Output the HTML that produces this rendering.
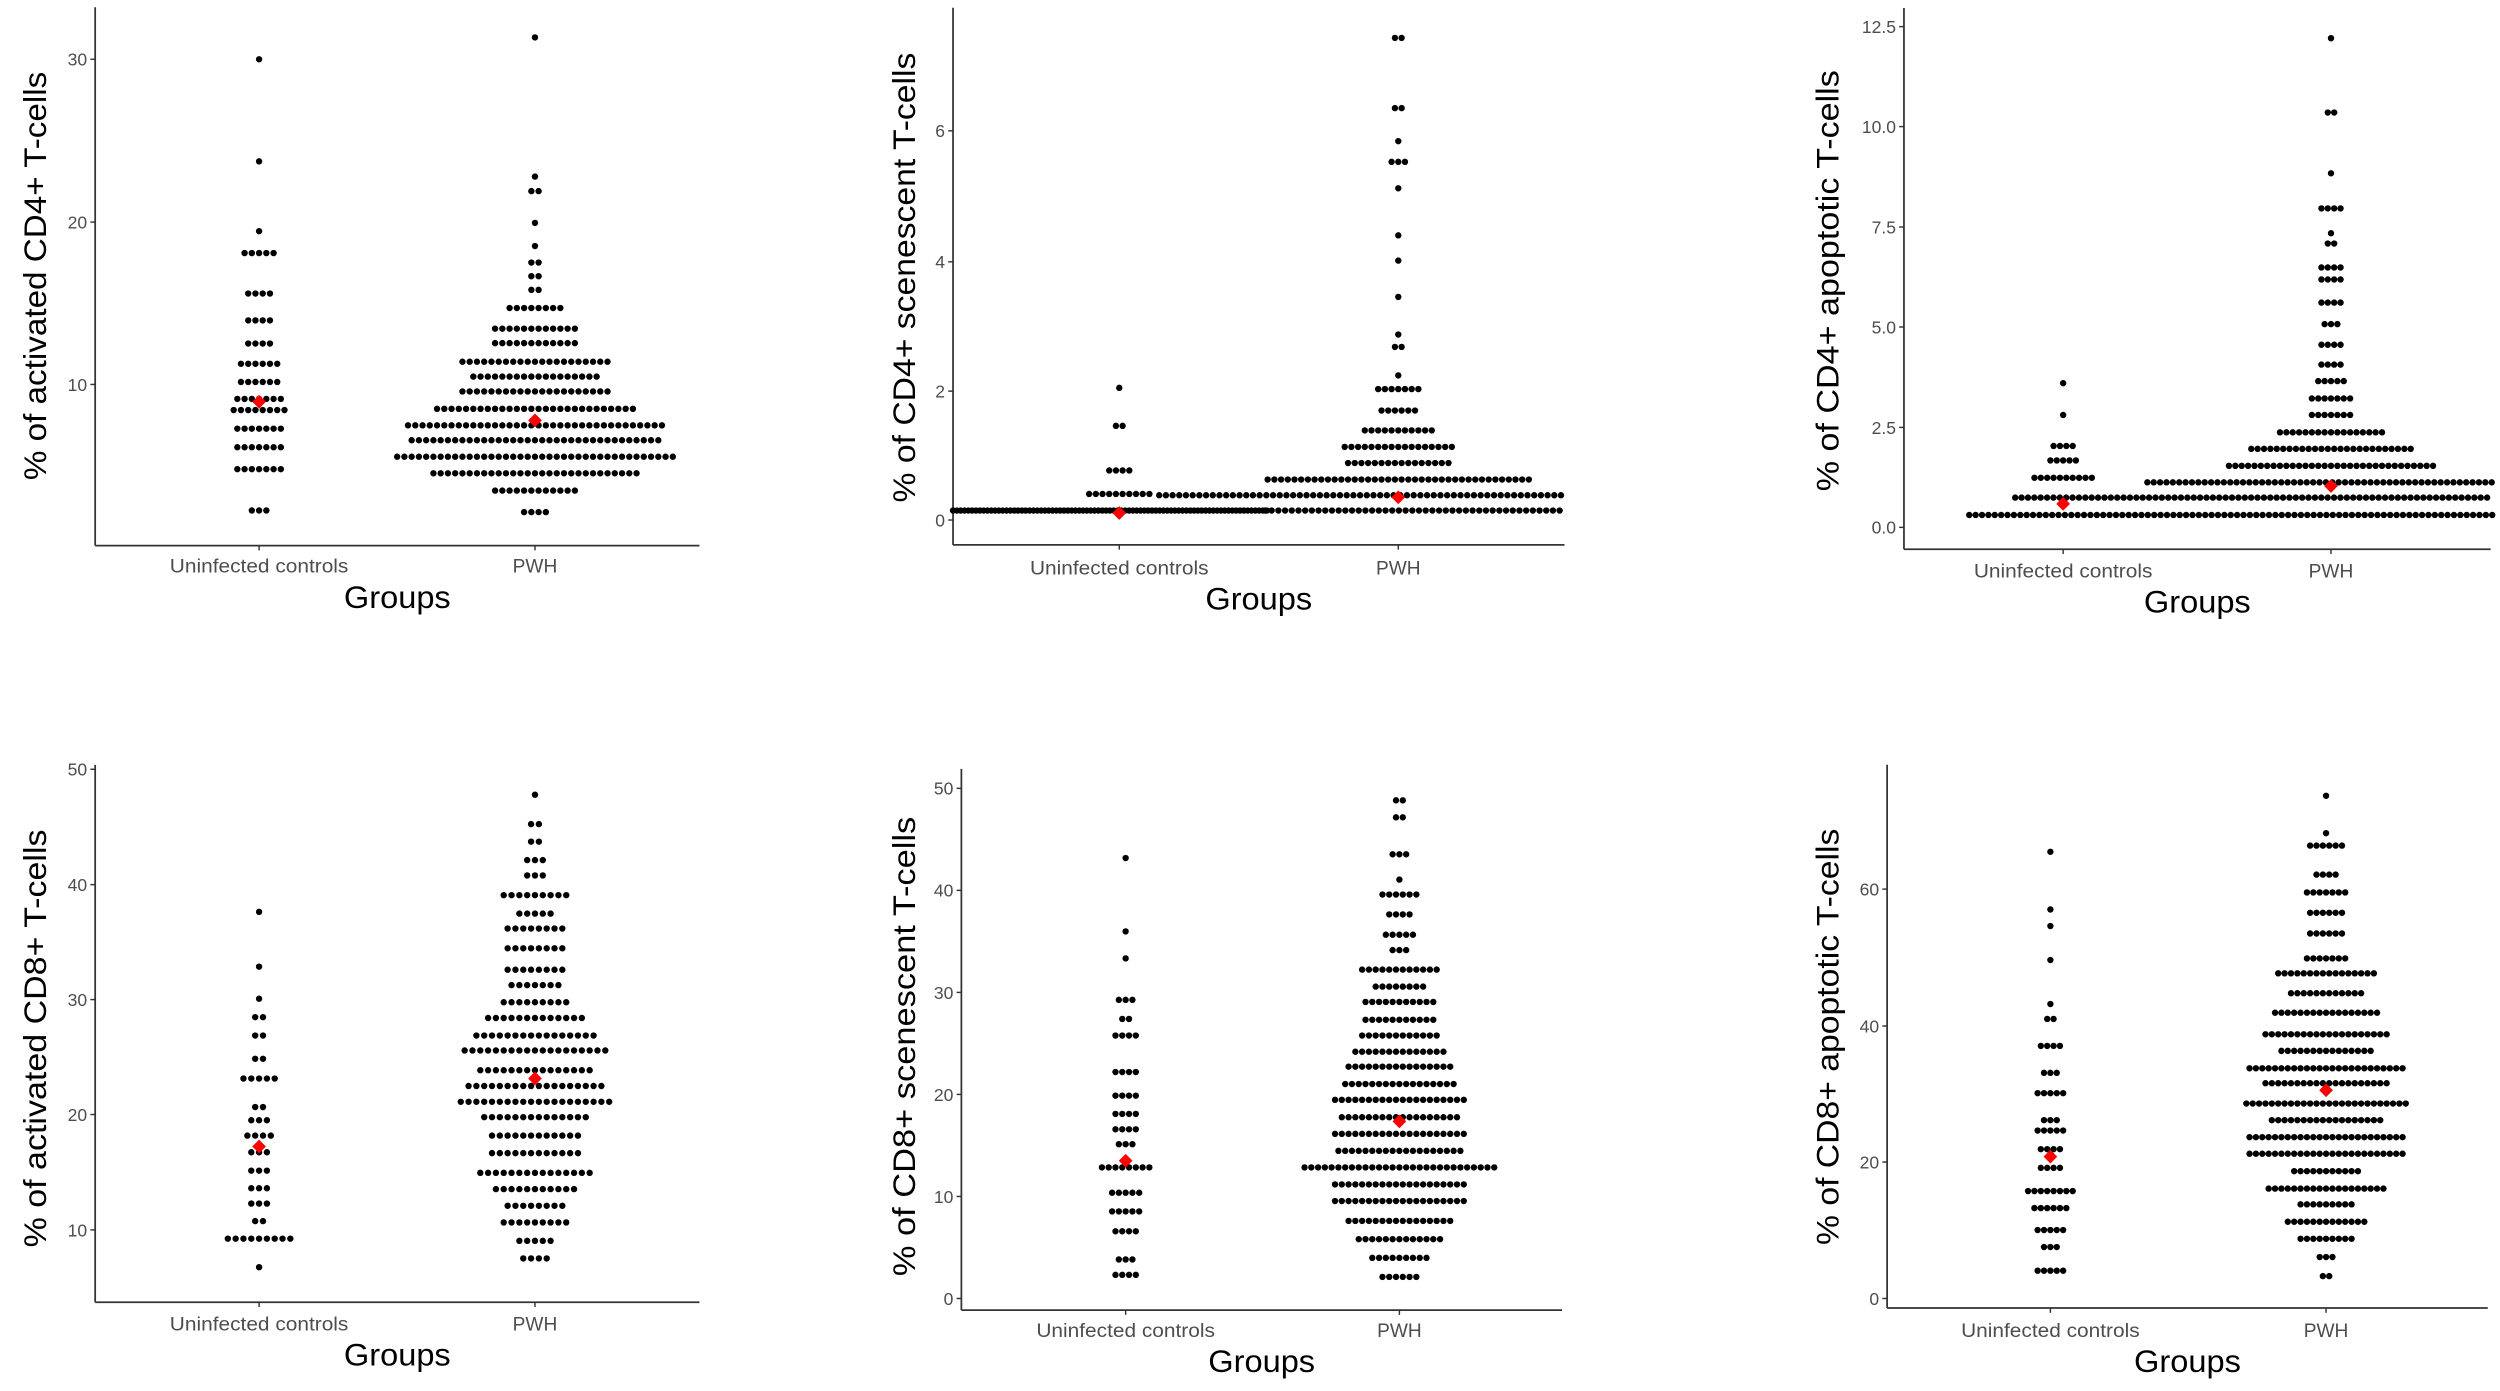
<!DOCTYPE html>
<html><head><meta charset="utf-8"><style>
html,body{margin:0;padding:0;background:#fff;}
svg{display:block;}
</style></head><body>
<svg id="s" xmlns="http://www.w3.org/2000/svg" width="2500" height="1391" viewBox="0 0 1568 872" preserveAspectRatio="none" font-family="Liberation Sans, Arial, sans-serif"></svg>
<script>
var P=[
{zA:928,dA:241,r:0.259,zUc:452,gx:162.5,xr:0.362,zP:930,sp:4.55,axZ:168,rZ:1215,xaZ:1318,topZ:15,
 ticks:[[141,"30"],[535,"20"],[928,"10"]],
 title:"% of activated CD4+ T-cells",tx:22,ty:173,tl:256,lab:359,grp:381,
 U:[[141,1],[388,1],[557,1],[610,5],[708,4],[773,4],[829,4],[878,6],[922,6],[963,7],[990,8],[1035,7],[1080,7],[1133,7],[1233,3]],
 W:[[88,1],[425,1],[460,2],[537,1],[593,1],[633,2],[666,2],[699,2],[743,8],[793,12],[828,12],[873,21],[909,18],[945,21],[987,28],[1027,36],[1063,35],[1103,39],[1143,29],[1185,12],[1237,4]],
 S:[],red:[[452,970],[930,1015]]},
{zA:1255,dA:326,r:0.259,zUc:493,gx:702,xr:0.3385,zP:1010,sp:4.2,axZ:185,rZ:1318,xaZ:1315,topZ:15,
 ticks:[[313,"6"],[630,"4"],[943,"2"],[1255,"0"]],
 title:"% of CD4+ scenescent T-cells",tx:567,ty:174,tl:282,lab:360,grp:382,
 U:[[935,1],[1027,2],[1135,4],[1192,10]],
 W:[[88,2],[258,2],[338,1],[388,3],[452,1],[566,1],[627,1],[715,1],[806,1],[836,2],[905,1],[938,7],[990,6],[1038,11],[1078,17],[1117,16],[1157,40]],
 S:[[1232,185,770,2.4],[1195,567,1320,4.2],[1232,763,1320,4.2]],red:[[493,1238],[1010,1200]]},
{zA:1272,dA:330.6,r:0.259,zUc:712,gx:1294,xr:0.32,zP:1237,sp:4.0,axZ:400,rZ:1550,xaZ:1325,topZ:15,
 ticks:[[60,"12.5"],[302,"10.0"],[545,"7.5"],[787,"5.0"],[1030,"2.5"],[1272,"0.0"]],
 title:"% of CD4+ apoptotic T-cells",tx:1146,ty:176,tl:264,lab:362,grp:384,
 U:[[923,1],[1000,1],[1075,4],[1110,5],[1152,10]],
 W:[[88,1],[268,2],[415,1],[500,4],[560,1],[585,2],[643,4],[672,4],[728,4],[780,3],[830,4],[878,4],[918,5],[960,7],[1000,7],[1042,17],[1082,26],[1123,33]],
 S:[[1163,877,1555,4.0],[1200,618,1555,4.0],[1242,528,1555,4.0]],red:[[712,1215],[1237,1172]]},
{zA:1205,dA:771,r:0.275,zUc:452,gx:162.5,xr:0.362,zP:930,sp:4.9,axZ:168,rZ:1215,xaZ:1370,topZ:145,
 ticks:[[155,"50"],[418,"40"],[680,"30"],[942,"20"],[1205,"10"]],
 title:"% of activated CD8+ T-cells",tx:22,ty:651,tl:262,lab:834,grp:856,
 U:[[480,1],[605,1],[678,1],[720,2],[762,2],[815,2],[860,5],[925,2],[955,3],[990,4],[1028,3],[1070,3],[1110,3],[1145,3],[1185,2],[1225,9],[1290,1]],
 W:[[213,1],[280,2],[320,2],[362,3],[397,3],[442,9],[484,5],[518,8],[563,8],[612,8],[647,7],[686,9],[722,13],[762,16],[796,19],[841,15],[877,18],[913,20],[948,14],[990,12],[1030,12],[1075,15],[1112,11],[1150,8],[1188,9],[1230,5],[1270,4]],
 S:[],red:[[452,1015],[930,860]]},
{zA:1342,dA:814,r:0.26,zUc:510,gx:706,xr:0.34,zP:1015,sp:4.25,axZ:207,rZ:1315,xaZ:1370,topZ:65,
 ticks:[[112,"50"],[358,"40"],[604,"30"],[850,"20"],[1096,"10"],[1342,"0"]],
 title:"% of CD8+ scenescent T-cells",tx:567,ty:656,tl:288,lab:838,grp:860,
 U:[[280,1],[457,1],[522,1],[622,3],[668,2],[708,4],[796,4],[853,4],[897,4],[934,4],[970,3],[1026,8],[1087,5],[1132,5],[1180,4],[1248,3],[1285,4]],
 W:[[141,2],[182,2],[271,3],[332,1],[368,6],[416,4],[465,5],[502,3],[549,12],[590,8],[627,11],[670,11],[708,12],[747,14],[783,16],[825,17],[863,20],[905,18],[945,20],[986,19],[1026,29],[1067,20],[1107,20],[1155,16],[1199,13],[1244,9],[1290,6]],
 S:[],red:[[510,1010],[1015,915]]},
{zA:1342,dA:814,r:0.26,zUc:688,gx:1286,xr:0.319,zP:1230,sp:4.0,axZ:367,rZ:1548,xaZ:1365,topZ:55,
 ticks:[[355,"60"],[685,"40"],[1013,"20"],[1342,"0"]],
 title:"% of CD8+ apoptotic T-cells",tx:1146,ty:650,tl:261,lab:838,grp:860,
 U:[[265,1],[404,1],[444,1],[526,1],[632,1],[668,2],[733,4],[798,3],[847,5],[912,3],[937,5],[982,4],[1027,4],[1083,8],[1124,6],[1177,5],[1218,3],[1275,5]],
 W:[[130,1],[220,1],[250,6],[320,4],[363,7],[412,6],[462,6],[522,7],[558,16],[606,12],[653,17],[705,20],[745,15],[787,25],[823,20],[872,26],[912,18],[953,25],[993,25],[1035,11],[1077,19],[1115,9],[1157,13],[1198,9],[1242,3],[1288,2]],
 S:[],red:[[688,1000],[1230,840]]}
];
var o=[];
P.forEach(function(p){
 function Y(z){return p.dA+(z-p.zA)*p.r;}
 function X(z){return p.gx+(z-p.zUc)*p.xr;}
 var ax=X(p.axZ),rx=X(p.rZ),xa=Y(p.xaZ),top=Y(p.topZ),gU=p.gx,gP=X(p.zP);
 o.push('<line x1="'+ax+'" y1="'+top+'" x2="'+ax+'" y2="'+xa+'" stroke="#333" stroke-width="1.1"/>');
 o.push('<line x1="'+ax+'" y1="'+xa+'" x2="'+rx+'" y2="'+xa+'" stroke="#333" stroke-width="1.1"/>');
 p.ticks.forEach(function(t){var y=Y(t[0]);
  o.push('<line x1="'+(ax-3)+'" y1="'+y+'" x2="'+ax+'" y2="'+y+'" stroke="#333" stroke-width="0.9"/>');
  o.push('<text x="'+(ax-5)+'" y="'+(y+4)+'" font-size="11" fill="#4d4d4d" text-anchor="end">'+t[1]+'</text>');});
 [gU,gP].forEach(function(g){o.push('<line x1="'+g+'" y1="'+xa+'" x2="'+g+'" y2="'+(xa+3)+'" stroke="#333" stroke-width="0.9"/>');});
 o.push('<text x="'+gU+'" y="'+p.lab+'" font-size="12" fill="#4d4d4d" text-anchor="middle" textLength="112" lengthAdjust="spacingAndGlyphs">Uninfected controls</text>');
 o.push('<text x="'+gP+'" y="'+p.lab+'" font-size="12" fill="#4d4d4d" text-anchor="middle">PWH</text>');
 o.push('<text x="'+((ax+rx)/2)+'" y="'+p.grp+'" font-size="20" fill="#000" text-anchor="middle" textLength="67" lengthAdjust="spacingAndGlyphs">Groups</text>');
 o.push('<text transform="translate('+(p.tx+7)+','+p.ty+') rotate(-90)" font-size="20" fill="#000" text-anchor="middle" textLength="'+p.tl+'" lengthAdjust="spacingAndGlyphs">'+p.title+'</text>');
 function row(cx,z,n){var y=Y(z);for(var i=0;i<n;i++){var x=cx+(i-(n-1)/2)*p.sp;o.push('<circle cx="'+x.toFixed(2)+'" cy="'+y.toFixed(2)+'" r="2"/>');}}
 p.U.forEach(function(r){row(gU,r[0],r[1]);});
 p.W.forEach(function(r){row(gP,r[0],r[1]);});
 p.S.forEach(function(s){var y=Y(s[0]),x0=X(s[1]),x1=X(s[2]);for(var x=x0;x<=x1+0.01;x+=s[3])o.push('<circle cx="'+x.toFixed(2)+'" cy="'+y.toFixed(2)+'" r="2"/>');});
 p.red.forEach(function(r){var x=X(r[0]),y=Y(r[1]);o.push('<polygon points="'+x+','+(y-4.3)+' '+(x+4.3)+','+y+' '+x+','+(y+4.3)+' '+(x-4.3)+','+y+'" fill="#ff0000"/>');});
});
document.getElementById('s').innerHTML=o.join('');
</script>
</body></html>
